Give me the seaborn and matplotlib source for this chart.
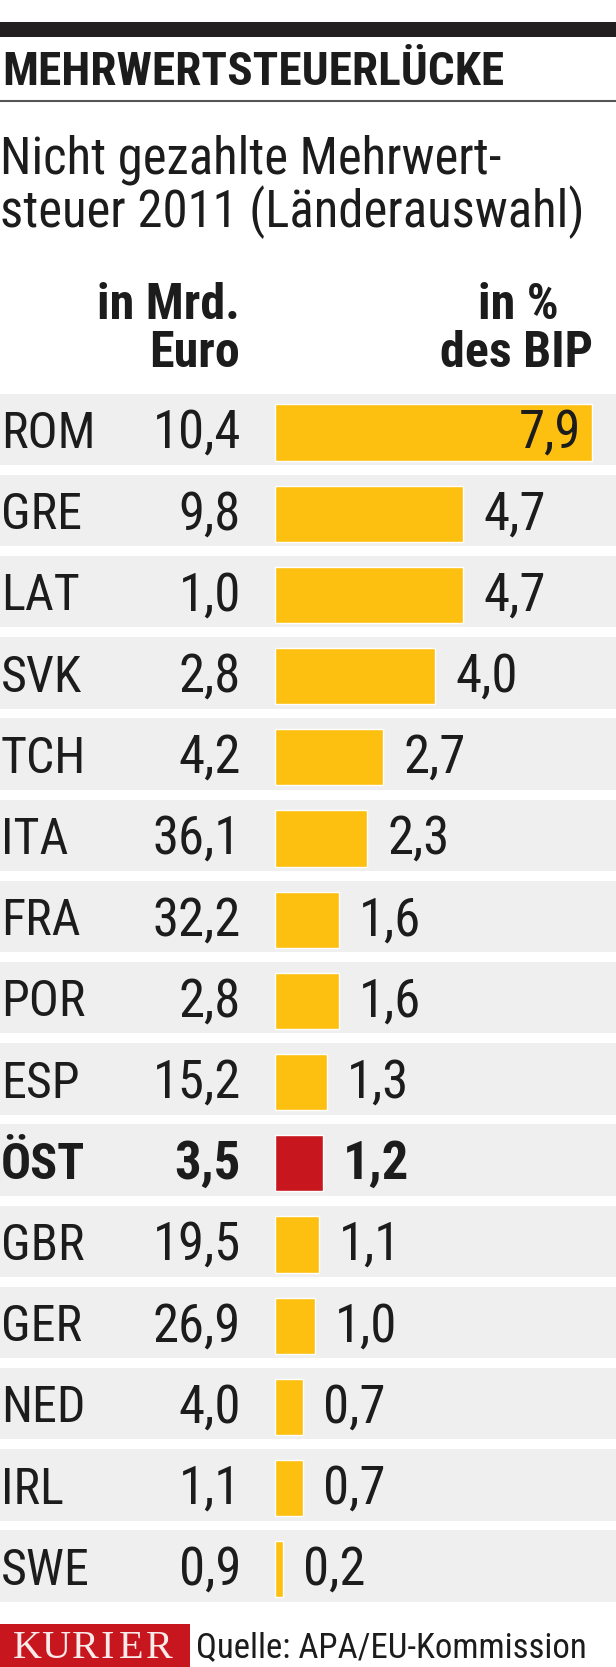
import matplotlib
matplotlib.use("Agg")
import matplotlib.pyplot as plt
from matplotlib import font_manager
import seaborn as sns

# Daten
laender = ["ROM", "GRE", "LAT", "SVK", "TCH", "ITA", "FRA", "POR", "ESP",
           "ÖST", "GBR", "GER", "NED", "IRL", "SWE"]
mrd_euro = [10.4, 9.8, 1.0, 2.8, 4.2, 36.1, 32.2, 2.8, 15.2,
            3.5, 19.5, 26.9, 4.0, 1.1, 0.9]
prozent_bip = [7.9, 4.7, 4.7, 4.0, 2.7, 2.3, 1.6, 1.6, 1.3,
               1.2, 1.1, 1.0, 0.7, 0.7, 0.2]
hervorheben = "ÖST"

GELB = "#fdc010"
ROT = "#c8161e"
GRAU = "#efefef"
TEXT = "#1c1c1c"

sns.set_style("white")
vorhanden = {f.name for f in font_manager.fontManager.ttflist}
schmal = [f for f in ["Roboto Condensed", "Liberation Sans Narrow", "Open Sans Condensed"] if f in vorhanden]
plt.rcParams["font.family"] = schmal + ["Roboto", "DejaVu Sans"]

W, H = 616, 1667
fig = plt.figure(figsize=(W / 100, H / 100), dpi=100)
fig.patch.set_facecolor("white")

# Balken-Achse ueber die volle Breite, Balken beginnen bei x=275 px
px_pro_einheit = 40.1
x0 = 275
top_px, bot_px = 380, 1620
row0, pitch = 432.5, 81.2
ax = fig.add_axes([0, 1 - bot_px / H, 1, (bot_px - top_px) / H])
farben = [ROT if l == hervorheben else GELB for l in laender]
sns.barplot(x=prozent_bip, y=laender, hue=laender, palette=farben, orient="h",
            width=0.69, saturation=1, legend=False, ax=ax, zorder=2)
ax.set_xlim(-x0 / px_pro_einheit, (W - x0) / px_pro_einheit)
ax.set_ylim(len(laender) - 1 + (bot_px - (row0 + 14 * pitch)) / pitch,
            -(row0 - top_px) / pitch)
ax.axis("off")

xl, xr = ax.get_xlim()
fs_land, fs_zahl = 36, 38
for i, (land, mrd, pct) in enumerate(zip(laender, mrd_euro, prozent_bip)):
    ax.axhspan(i - 0.48, i + 0.40, color=GRAU, zorder=0, lw=0)
    fw = "bold" if land == hervorheben else "normal"
    yb = i + 0.19
    ax.text(xl + 1 / px_pro_einheit, yb, land, fontsize=fs_land, fontweight=fw,
            color=TEXT, va="baseline", ha="left")
    ax.text((241 - x0) / px_pro_einheit, yb, f"{mrd:.1f}".replace(".", ","),
            fontsize=fs_zahl, fontweight=fw, color=TEXT, va="baseline", ha="right")
    s = f"{pct:.1f}".replace(".", ",")
    if pct > 6:
        ax.text(pct - 0.26, yb, s, fontsize=fs_zahl, fontweight=fw, color=TEXT,
                va="baseline", ha="right", zorder=3)
    else:
        ax.text(pct + 0.5, yb, s, fontsize=fs_zahl, fontweight=fw, color=TEXT,
                va="baseline", ha="left", zorder=3)

# Overlay in Pixelkoordinaten fuer Kopf und Fuss
ov = fig.add_axes([0, 0, 1, 1], zorder=-1)
ov.set_xlim(0, W)
ov.set_ylim(H, 0)
ov.axis("off")
ov.add_patch(plt.Rectangle((0, 22), W, 15, color="#231f20", lw=0))
ov.plot([0, W], [101, 101], color="#555555", lw=1.5)
ov.text(2, 85, "MEHRWERTSTEUERLÜCKE", fontsize=34, fontweight="bold",
        color=TEXT, va="baseline", ha="left")
ov.text(0, 173, "Nicht gezahlte Mehrwert-", fontsize=36.5, color=TEXT,
        va="baseline", ha="left")
ov.text(0, 227, "steuer 2011 (Länderauswahl)", fontsize=36.5, color=TEXT,
        va="baseline", ha="left")
ov.text(240, 319, "in Mrd.", fontsize=36, fontweight="bold", color=TEXT,
        va="baseline", ha="right")
ov.text(240, 367, "Euro", fontsize=36, fontweight="bold", color=TEXT,
        va="baseline", ha="right")
ov.text(518, 319, "in %", fontsize=36, fontweight="bold", color=TEXT,
        va="baseline", ha="center")
ov.text(517, 367, "des BIP", fontsize=36, fontweight="bold", color=TEXT,
        va="baseline", ha="center")

# Fusszeile: Logo mit gesperrter Schrift
ov.add_patch(plt.Rectangle((0, 1624), 190, 43, color=ROT, lw=0))
for buchstabe, xm in zip("KURIER", [27, 56, 85, 107, 131, 159]):
    ov.text(xm, 1658, buchstabe, fontsize=29, color="#fbeaea",
            family=["Liberation Serif", "DejaVu Serif"],
            va="baseline", ha="center")
ov.text(196, 1657, "Quelle: APA/EU-Kommission", fontsize=25, color=TEXT,
        va="baseline", ha="left")

fig.savefig("out.png", dpi=100, facecolor="white")
